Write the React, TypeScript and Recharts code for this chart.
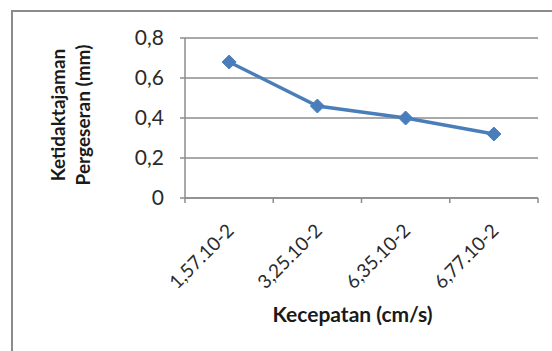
import { LineChart, Line, XAxis, YAxis, CartesianGrid } from 'recharts'

const categories = ['1,57.10-2', '3,25.10-2', '6,35.10-2', '6,77.10-2']
const values = [0.68, 0.46, 0.4, 0.32]
const yTicks = [0, 0.2, 0.4, 0.6, 0.8]

const data = categories.map((c, i) => ({ kecepatan: c, nilai: values[i] }))

const FONT = 'Lato, "Open Sans", sans-serif'
const BLUE = '#4a7ebb'
const GRID = '#8c8c8c'

function Diamond(props: any) {
  const { cx, cy } = props
  if (cx == null || cy == null) return null
  const r = 7
  return <polygon points={`${cx},${cy - r} ${cx + r},${cy} ${cx},${cy + r} ${cx - r},${cy}`} fill={BLUE} stroke={BLUE} strokeWidth={1} />
}

// category labels rotated like Excel, tick marks sit between categories
function XTick(props: any) {
  const { x, y, payload, index, visibleTicksCount, width } = props
  const band = width && visibleTicksCount ? width / visibleTicksCount : 88
  const axisY = y - 5
  const last = index === visibleTicksCount - 1
  return (
    <g>
      <line x1={x - band / 2} x2={x - band / 2} y1={axisY} y2={axisY + 5} stroke={GRID} strokeWidth={1.5} />
      {last && <line x1={x + band / 2} x2={x + band / 2} y1={axisY} y2={axisY + 5} stroke={GRID} strokeWidth={1.5} />}
      <g transform={`translate(${x + 6},${y + 29})`}>
        <text textAnchor="end" transform="rotate(-45)" fontSize={19} fill="#2a2a2a" fontFamily={FONT}>
          {payload.value}
        </text>
      </g>
    </g>
  )
}

export default function App() {
  return (
    <div style={{ position: 'absolute', left: 0, top: 0, width: 552, height: 351, overflow: 'hidden', background: '#fff' }}>
      <div style={{ position: 'absolute', left: 11, top: 10, width: 700, height: 500, borderLeft: `2px solid ${GRID}`, borderTop: `2px solid ${GRID}` }} />
      <div style={{ position: 'absolute', left: 0, top: 0 }}>
        <LineChart width={552} height={351} data={data} margin={{ top: 38, right: 14, bottom: 0, left: 100 }}>
          <CartesianGrid horizontal vertical={false} stroke={GRID} strokeWidth={1.5} />
          <XAxis
            dataKey="kecepatan"
            scale="band"
            height={153}
            axisLine={{ stroke: GRID, strokeWidth: 1.5 }}
            tickLine={false}
            tickSize={5}
            tickMargin={0}
            interval={0}
            tick={<XTick />}
            label={{
              content: ({ viewBox }: any) => (
                <text x={viewBox.x + viewBox.width / 2 - 9} y={viewBox.y + 124} textAnchor="middle" fontSize={21} fontWeight="bold" fill="#1a1a1a" fontFamily={FONT}>
                  Kecepatan (cm/s)
                </text>
              ),
            }}
          />
          <YAxis
            type="number"
            domain={[0, 0.8]}
            ticks={yTicks}
            width={85}
            axisLine={{ stroke: GRID, strokeWidth: 1.5 }}
            tickLine={{ stroke: GRID, strokeWidth: 1.5 }}
            tickSize={5}
            tickMargin={16}
            tickFormatter={(v: number) => String(v).replace('.', ',')}
            tick={{ fontSize: 21, fill: '#2a2a2a', fontFamily: FONT }}
            label={{
              content: ({ viewBox }: any) => {
                const cy = viewBox.y + viewBox.height / 2 - 3
                return (
                  <g fontSize={19} fontWeight="bold" fill="#1a1a1a" fontFamily={FONT}>
                    <text transform={`translate(${viewBox.x - 35},${cy}) rotate(-90)`} textAnchor="middle">Ketidaktajaman</text>
                    <text transform={`translate(${viewBox.x - 10},${cy}) rotate(-90)`} textAnchor="middle">Pergeseran (mm)</text>
                  </g>
                )
              },
            }}
          />
          <Line type="linear" dataKey="nilai" stroke={BLUE} strokeWidth={3.5} dot={<Diamond />} activeDot={false} isAnimationActive={false} />
        </LineChart>
      </div>
    </div>
  )
}
